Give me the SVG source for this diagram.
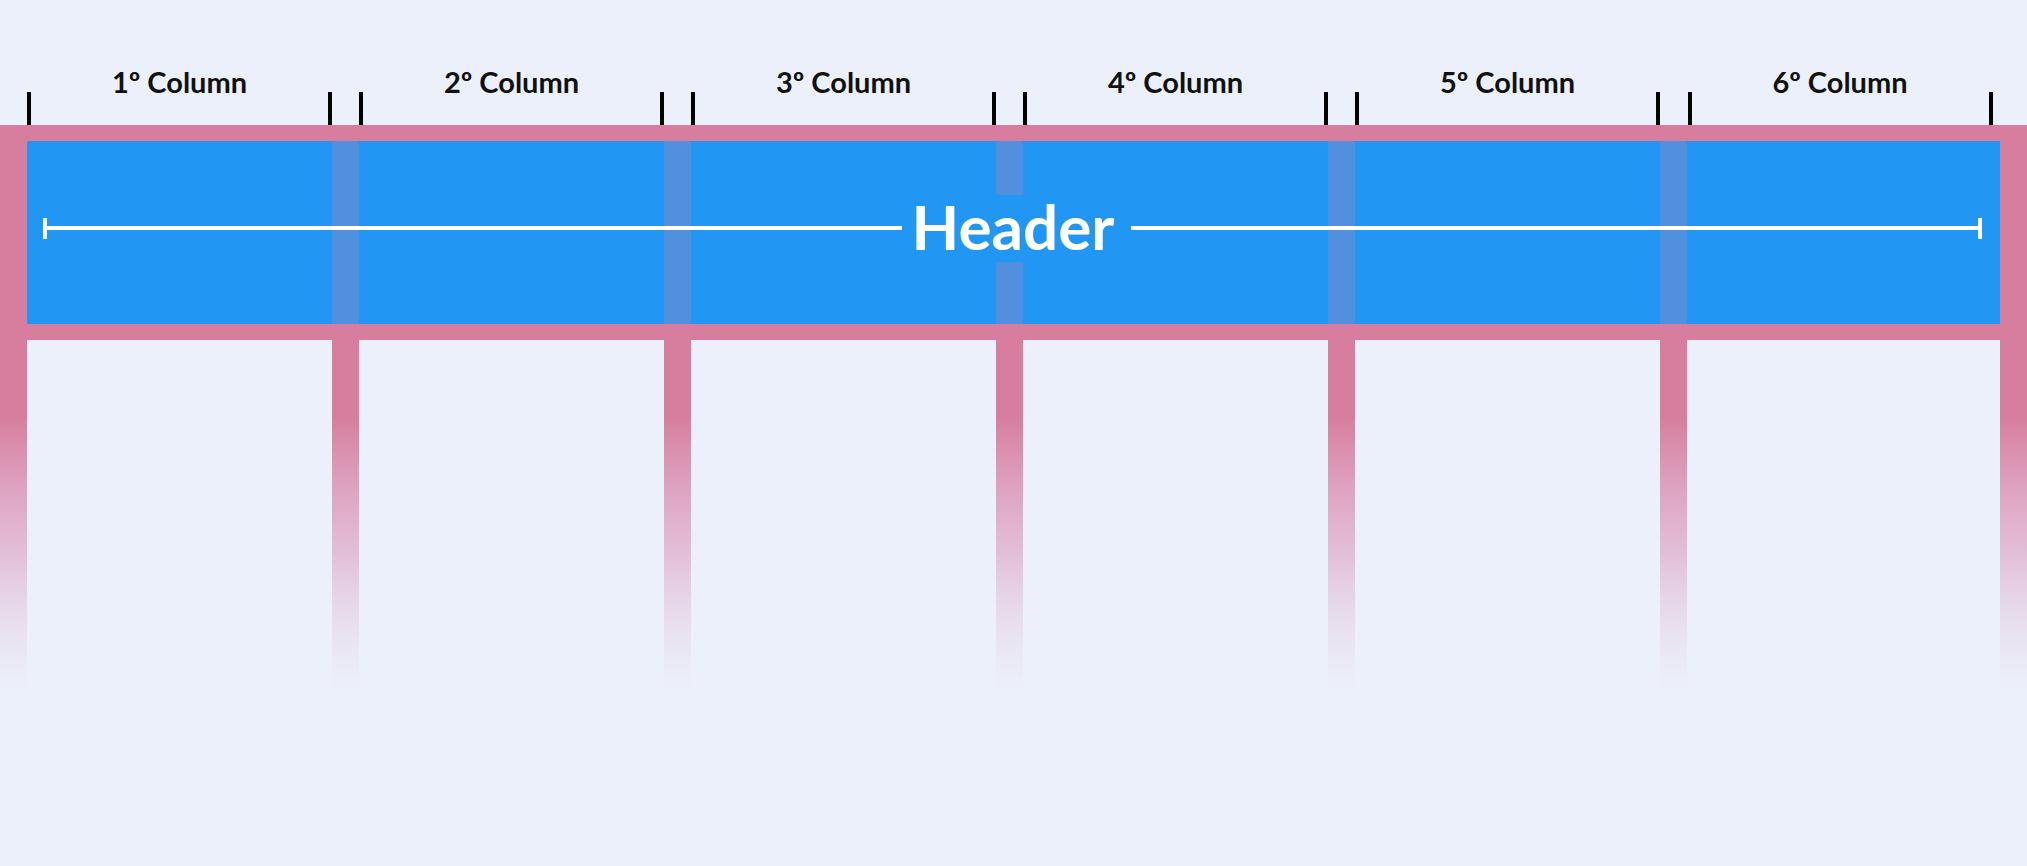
<svg xmlns="http://www.w3.org/2000/svg" width="2027" height="866" viewBox="0 0 2027 866">
  <style>
    .pink { fill: #d77e9e; }
    .blue { fill: #2196f3; }
    .ov { fill: #d77e9e; fill-opacity: 0.27; }
    .tick { fill: #000000; }
    .col { fill: url(#fade); }
    .lbl { font-family: Lato, "Liberation Sans", sans-serif; font-weight: 700; font-size: 29px; fill: #111111; text-anchor: middle; }
    .hdr { font-family: Lato, "Liberation Sans", sans-serif; font-weight: 700; font-size: 62px; fill: #ffffff; text-anchor: middle; }
    .wl { fill: #ffffff; }
  </style>
  <defs>
    <linearGradient id="fade" gradientUnits="userSpaceOnUse" x1="0" y1="340" x2="0" y2="692">
      <stop offset="0" stop-color="#d77e9e" stop-opacity="1"/>
      <stop offset="0.22" stop-color="#d77e9e" stop-opacity="1"/>
      <stop offset="0.6" stop-color="#dc9cc0" stop-opacity="0.6"/>
      <stop offset="1" stop-color="#e3c9e3" stop-opacity="0"/>
    </linearGradient>
  </defs>
  <rect width="2027" height="866" fill="#ecf0fa"/>

  <g id="grid-columns">
    <rect class="col" x="0" y="330" width="27" height="370"/>
    <rect class="col" x="332" y="330" width="27" height="370"/>
    <rect class="col" x="664" y="330" width="27" height="370"/>
    <rect class="col" x="996" y="330" width="27" height="370"/>
    <rect class="col" x="1328" y="330" width="27" height="370"/>
    <rect class="col" x="1660" y="330" width="27" height="370"/>
    <rect class="col" x="2000" y="330" width="27" height="370"/>
  </g>

  <g id="header">
    <rect class="pink" x="0" y="125" width="2027" height="215"/>
    <rect class="blue" x="27" y="141" width="1973" height="183"/>
    <rect class="ov" x="332" y="141" width="27" height="183"/>
    <rect class="ov" x="664" y="141" width="27" height="183"/>
    <rect class="ov" x="996" y="141" width="27" height="183"/>
    <rect class="ov" x="1328" y="141" width="27" height="183"/>
    <rect class="ov" x="1660" y="141" width="27" height="183"/>
    <rect class="wl" x="45" y="226" width="857" height="4"/>
    <rect class="wl" x="1131" y="226" width="849" height="4"/>
    <rect class="wl" x="43" y="218" width="4" height="21"/>
    <rect class="wl" x="1978" y="218" width="4" height="21"/>
    <rect class="blue" x="902" y="195" width="229" height="67"/>
    <text class="hdr" x="1013" y="250">Header</text>
  </g>

  <g id="column-markers">
    <rect class="tick" x="27" y="92" width="4" height="33"/>
    <rect class="tick" x="328" y="92" width="4" height="33"/>
    <rect class="tick" x="359" y="92" width="4" height="33"/>
    <rect class="tick" x="660" y="92" width="4" height="33"/>
    <rect class="tick" x="691" y="92" width="4" height="33"/>
    <rect class="tick" x="992" y="92" width="4" height="33"/>
    <rect class="tick" x="1023" y="92" width="4" height="33"/>
    <rect class="tick" x="1324" y="92" width="4" height="33"/>
    <rect class="tick" x="1355" y="92" width="4" height="33"/>
    <rect class="tick" x="1656" y="92" width="4" height="33"/>
    <rect class="tick" x="1688" y="92" width="4" height="33"/>
    <rect class="tick" x="1989" y="92" width="4" height="33"/>
  </g>

  <g id="col1"><text class="lbl" x="179.5" y="93">1º Column</text></g>
  <g id="col2"><text class="lbl" x="511.5" y="93">2º Column</text></g>
  <g id="col3"><text class="lbl" x="843.5" y="93">3º Column</text></g>
  <g id="col4"><text class="lbl" x="1175.5" y="93">4º Column</text></g>
  <g id="col5"><text class="lbl" x="1507.5" y="93">5º Column</text></g>
  <g id="col6"><text class="lbl" x="1840" y="93">6º Column</text></g>
</svg>
